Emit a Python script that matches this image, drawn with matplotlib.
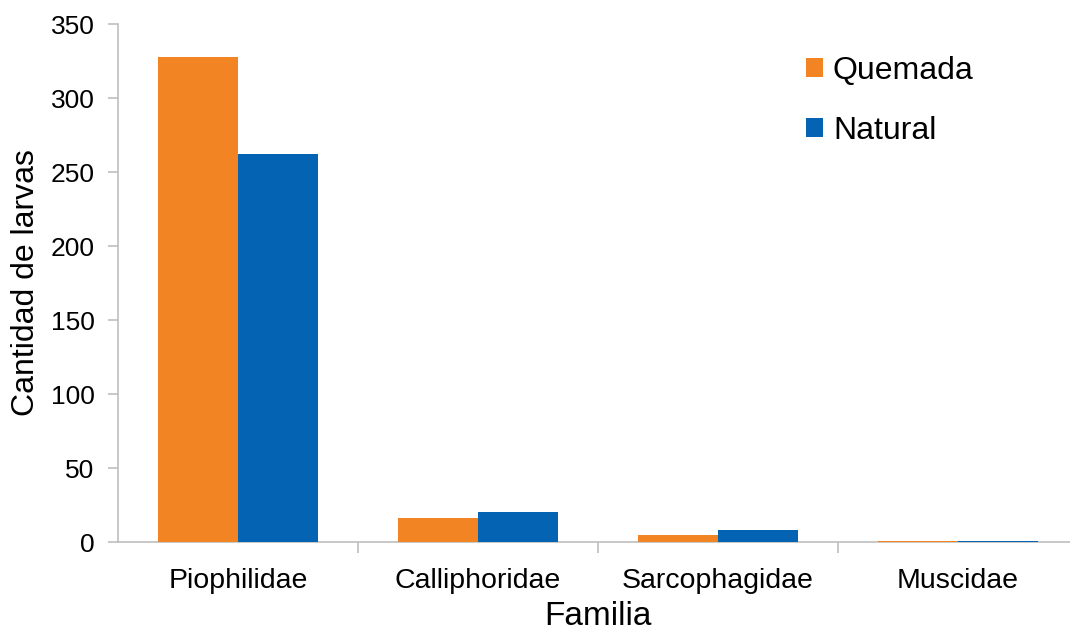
import numpy as np
import matplotlib.pyplot as plt

plt.rcParams['font.family'] = ['Liberation Sans', 'DejaVu Sans']

# larvae counts per family
familias = ['Piophilidae', 'Calliphoridae', 'Sarcophagidae', 'Muscidae']
quemada = [328, 16, 5, 1]
natural = [262, 20, 8, 1]

gris = '#bfbfbf'
fig = plt.figure(figsize=(10.7, 6.35), dpi=100)
ax = fig.add_axes([118 / 1070, 1 - 542 / 635, 960 / 1070, 518 / 635])

x = np.arange(len(familias))
w = 1 / 3
# bars above the axis line so the tiny Muscidae values still show
ax.bar(x - w / 2, quemada, w, color='#F28424', label='Quemada', zorder=3)
ax.bar(x + w / 2, natural, w, color='#0563B3', label='Natural', zorder=3)

ax.set_xlim(-0.5, len(familias) - 0.5)
ax.set_ylim(0, 350)
ax.set_yticks(range(0, 351, 50))
ax.set_xticks(x)
ax.set_xticklabels(familias, fontsize=20.5)
ax.set_xticks(np.arange(0.5, len(familias) - 0.5), minor=True)
ax.tick_params(axis='x', which='major', length=0, pad=19)
ax.tick_params(axis='x', which='minor', length=8, width=1.2, color=gris)
ax.tick_params(axis='y', length=7, width=1.2, color=gris, labelsize=19, pad=10)

for s in ['top', 'right']:
    ax.spines[s].set_visible(False)
for s in ['left', 'bottom']:
    ax.spines[s].set_color(gris)
    ax.spines[s].set_linewidth(1.2)

ax.set_ylabel('Cantidad de larvas', fontsize=23, labelpad=7)
ax.set_xlabel('Familia', fontsize=24, labelpad=5)

fig.legend(loc='upper left', bbox_to_anchor=(793 / 1070, 1 - 43 / 635),
           frameon=False, fontsize=23, handlelength=0.55, handleheight=0.55,
           handletextpad=0.3, labelspacing=0.95, borderaxespad=0)

fig.savefig('out.png', dpi=100)
